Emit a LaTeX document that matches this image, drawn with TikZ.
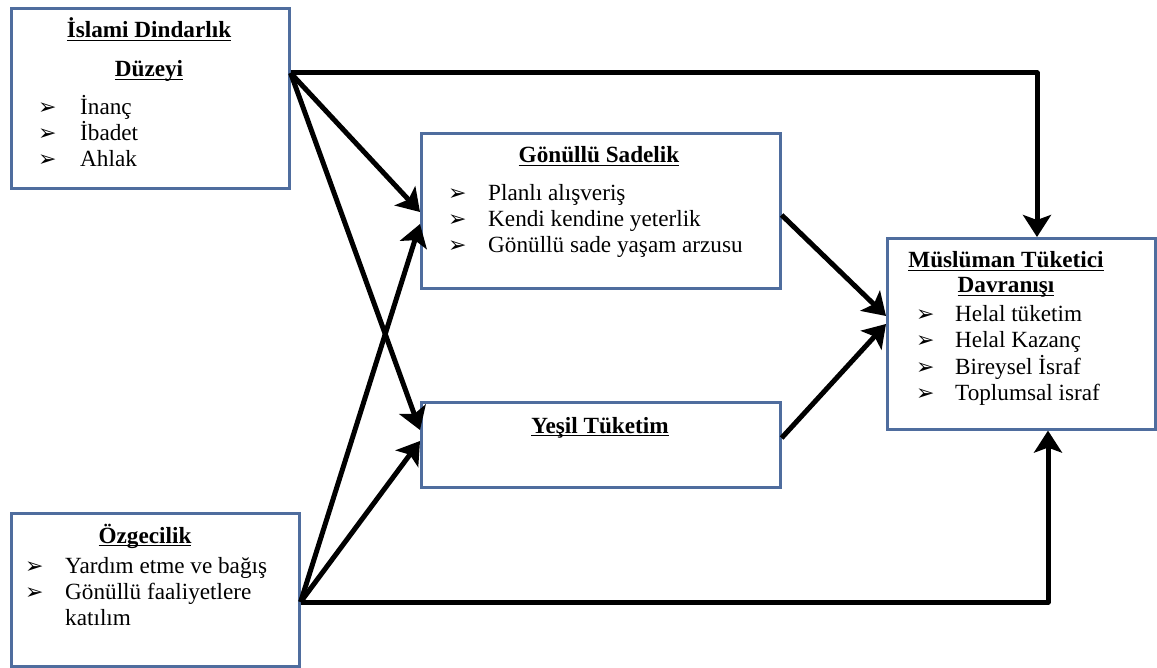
\documentclass[tikz,border=0pt]{standalone}
\usepackage{fontspec}
\setmainfont{Liberation Serif}
\newfontfamily\dvsans{DejaVu Sans}
\usetikzlibrary{arrows.meta}
\definecolor{frameblue}{RGB}{79,109,158}
% bold heading with a thick underline
\newcommand\headline[1]{\setbox0\hbox{\bfseries #1}\rlap{\rule[-3.4pt]{\wd0}{1.8pt}}\box0}
\newcommand\bulletglyph{{\dvsans\fontsize{22}{22}\selectfont ➢}}
\begin{document}
\begin{tikzpicture}[x=1pt,y=-1pt]
\tikzset{
  panel/.style={draw=frameblue, line width=2.6pt, fill=white, inner sep=0pt, anchor=north west},
  headtext/.style={anchor=base, inner sep=0pt, font=\fontsize{23.2}{26}\selectfont},
  itemtext/.style={anchor=base west, inner sep=0pt, font=\fontsize{23.2}{26}\selectfont},
  bulletmark/.style={anchor=base west, inner sep=0pt},
  link/.style={line width=5pt, line join=round, -{Stealth[length=22pt,width=28pt,inset=5pt]}}
}
\useasboundingbox[fill=white] (0,0) rectangle (1157,668);

% boxes
\node[panel, minimum width=278pt, minimum height=180pt] (b1) at (10,7) {};
\node[panel, minimum width=359pt, minimum height=155pt] (b2) at (420,132) {};
\node[panel, minimum width=359pt, minimum height=85pt]  (b3) at (420,401) {};
\node[panel, minimum width=288pt, minimum height=153pt] (b4) at (10,512) {};
\node[panel, minimum width=268pt, minimum height=191pt] (b5) at (886,237) {};

% İslami Dindarlık Düzeyi
\node[headtext] (t1a) at (149,38) {\headline{İslami Dindarlık}};
\node[headtext] (t1b) at (149,77) {\headline{Düzeyi}};
\foreach \y/\txt [count=\i] in {115/İnanç, 141/İbadet, 167/Ahlak}{
  \node[bulletmark] (m1\i) at (38,\y) {\bulletglyph};
  \node[itemtext] (i1\i) at (80,\y) {\txt};
}

% Gönüllü Sadelik
\node[headtext] (t2) at (599,163) {\headline{Gönüllü Sadelik}};
\foreach \y/\txt [count=\i] in {201/Planlı alışveriş, 227/Kendi kendine yeterlik, 253/Gönüllü sade yaşam arzusu}{
  \node[bulletmark] (m2\i) at (448,\y) {\bulletglyph};
  \node[itemtext] (i2\i) at (488,\y) {\txt};
}

% Yeşil Tüketim
\node[headtext] (t3) at (600,433) {\headline{Yeşil Tüketim}};

% Özgecilik
\node[headtext] (t4) at (145,543) {\headline{Özgecilik}};
\foreach \y/\txt [count=\i] in {573/Yardım etme ve bağış, 599/Gönüllü faaliyetlere}{
  \node[bulletmark] (m4\i) at (25,\y) {\bulletglyph};
  \node[itemtext] (i4\i) at (65,\y) {\txt};
}
\node[itemtext] (i43) at (65,625) {katılım};

% Müslüman Tüketici Davranışı
\node[headtext] (t5a) at (1006,268) {\headline{Müslüman Tüketici}};
\node[headtext] (t5b) at (1006,293) {\headline{Davranışı}};
\foreach \y/\txt [count=\i] in {322/Helal tüketim, 348/Helal Kazanç, 374/Bireysel İsraf, 400/Toplumsal israf}{
  \node[bulletmark] (m5\i) at (916,\y) {\bulletglyph};
  \node[itemtext] (i5\i) at (955,\y) {\txt};
}

% junction points on the box edges
\coordinate (s1) at (b1.east |- 0,73);
\coordinate (s4) at (b4.east |- 0,602);
\coordinate (e2a) at (b2.west |- 0,212);
\coordinate (e2b) at (b2.west |- 0,224);
\coordinate (e3a) at (b3.west |- 0,430);
\coordinate (e3b) at (b3.west |- 0,441);
\coordinate (o2) at (b2.east |- 0,215);
\coordinate (o3) at (b3.east |- 0,438);
\coordinate (e5a) at (b5.west |- 0,316);
\coordinate (e5b) at (b5.west |- 0,324);

% connectors
\draw[link] (s1) -- (1037,73) -- (b5.north -| 1037,0);
\draw[link] (s1) -- (e2a);
\draw[link] (s1) -- (e3a);
\draw[link] (s4) -- (e2b);
\draw[link] (s4) -- (e3b);
\draw[link] (s4) -- (1048,602) -- (b5.south -| 1048,0);
\draw[link] (o2) -- (e5a);
\draw[link] (o3) -- (e5b);
\end{tikzpicture}
\end{document}
